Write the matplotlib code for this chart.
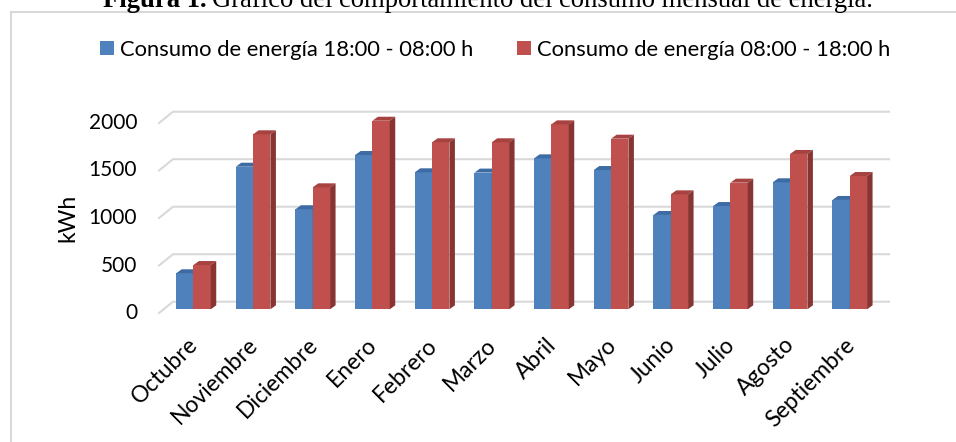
import matplotlib
matplotlib.use("Agg")
import matplotlib.pyplot as plt
from matplotlib.patches import Polygon, Rectangle, Patch

# monthly energy use (kWh)
months = ["Octubre", "Noviembre", "Diciembre", "Enero", "Febrero", "Marzo",
          "Abril", "Mayo", "Junio", "Julio", "Agosto", "Septiembre"]
night_kwh = [379, 1501, 1053, 1624, 1442, 1439, 1589, 1466, 993, 1087, 1337, 1151]
day_kwh = [466, 1842, 1284, 1985, 1758, 1758, 1947, 1796, 1210, 1333, 1635, 1403]
series_labels = ["Consumo de energía 18:00 - 08:00 h",
                 "Consumo de energía 08:00 - 18:00 h"]
y_ticks = [0, 500, 1000, 1500, 2000]

W, H = 956, 442
FONT = "Lato"

fig = plt.figure(figsize=(W / 100, H / 100), dpi=100)
fig.patch.set_facecolor("white")

# back wall of the plot area, in pixels
left_px, right_px = 173, 889
zero_px, top_px = 301.7, 111.7
ax = fig.add_axes([left_px / W, (H - zero_px) / H,
                   (right_px - left_px) / W, (zero_px - top_px) / H])
ax.set_xlim(0, len(months))
ax.set_ylim(0, 2000)
ax.axis("off")

ux = len(months) / (right_px - left_px)   # data units per pixel (x)
uy = 2000 / (zero_px - top_px)            # kWh per pixel (y)

# gridlines with a slanted front part (floor perspective)
wall_dx, wall_dy = -14 * ux, -11.3 * uy
for v in y_ticks:
    ax.plot([wall_dx, 0, len(months)], [v + wall_dy, v, v],
            color="#D9D9D9", lw=1.5, clip_on=False, zorder=1)
    ax.text(-36 * ux, v + wall_dy, str(v), ha="right", va="center",
            fontsize=15, family=FONT, clip_on=False)

ax.text(-105 * ux, 1000 + wall_dy, "kWh", rotation=90, ha="center",
        va="center", fontsize=16.5, family=FONT)

# bars (front face + top + side for the 3D look)
bar_w = 0.29
shift = -9.4 * ux
base = -7.6 * uy
depth_x, depth_y = 5.5 * ux, 4 * uy


def draw_bar(x0, val, front, top, side, z):
    ax.add_patch(Rectangle((x0, base), bar_w, val, facecolor=front,
                           lw=0, zorder=z, clip_on=False))
    y1 = base + val
    ax.add_patch(Polygon([(x0, y1), (x0 + bar_w, y1),
                          (x0 + bar_w + depth_x, y1 + depth_y),
                          (x0 + depth_x, y1 + depth_y)],
                         closed=True, facecolor=top, lw=0, zorder=z,
                         clip_on=False))
    ax.add_patch(Polygon([(x0 + bar_w, base), (x0 + bar_w, y1),
                          (x0 + bar_w + depth_x, y1 + depth_y),
                          (x0 + bar_w + depth_x, base + depth_y)],
                         closed=True, facecolor=side, lw=0, zorder=z,
                         clip_on=False))


for i in range(len(months)):
    xc = i + 0.5 + shift
    draw_bar(xc - bar_w, night_kwh[i], "#4F81BD", "#3D6BA3", "#385D8A", 2 + i * 2)
    draw_bar(xc, day_kwh[i], "#C0504D", "#A64340", "#873432", 3 + i * 2)
    ax.text(xc - 6 * ux, (zero_px - 334) * uy, months[i], rotation=45,
            rotation_mode="anchor", ha="right", va="top", fontsize=16.5,
            family=FONT, clip_on=False)

# legend
handles = [Patch(facecolor="#4F81BD"), Patch(facecolor="#C0504D")]
fig.legend(handles, series_labels, loc="center", ncol=2,
           bbox_to_anchor=(495.5 / W, 1 - 50 / H), frameon=False,
           prop={"family": FONT, "size": 15.8}, handlelength=0.6,
           handleheight=0.6, handletextpad=0.3, columnspacing=2.0)

# chart border
fig.add_artist(Rectangle((11 / W, -0.1), 2, (H - 12) / H + 0.1,
                         transform=fig.transFigure, fill=False,
                         edgecolor="#D9D9D9", lw=1.5))

# caption, cut at the top as in the original
t1 = fig.text(103 / W, 1 - 7 / H, "Figura 1.", family="Liberation Serif",
              weight="bold", fontsize=19.2, va="baseline")
fig.canvas.draw()
bb = t1.get_window_extent()
fig.text((bb.x1 + 5) / W, 1 - 7 / H,
         "Gráfico del comportamiento del consumo mensual de energía.",
         family="Liberation Serif", fontsize=19.2, va="baseline")

fig.savefig("out.png", dpi=100)
